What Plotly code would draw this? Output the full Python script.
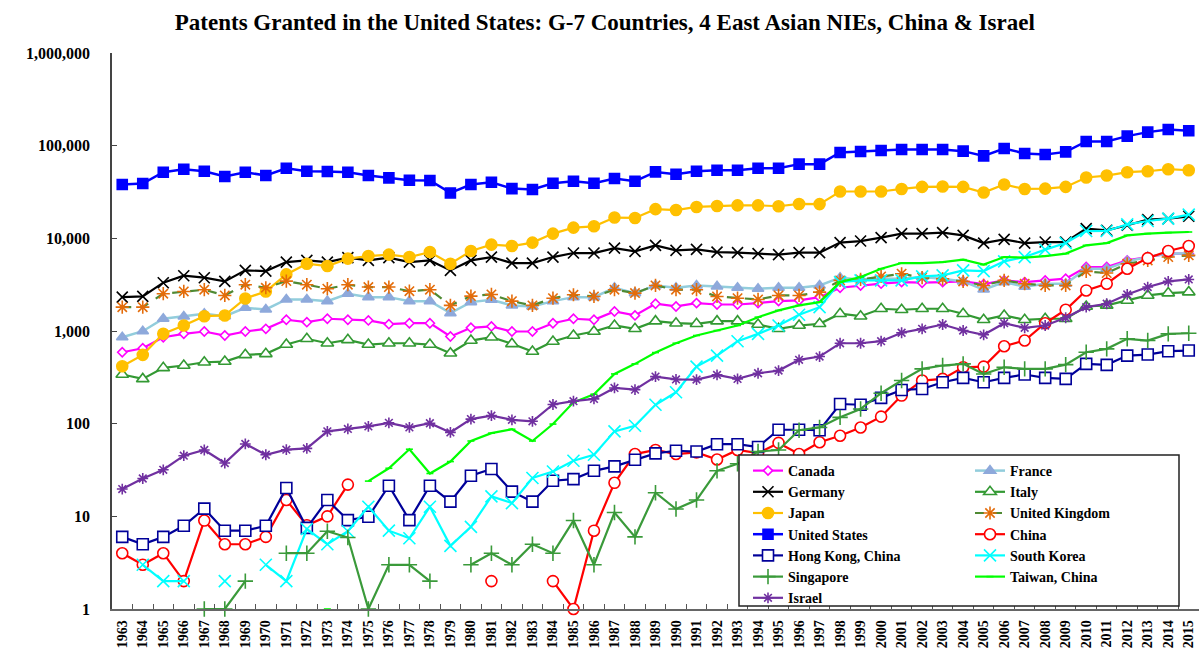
import plotly.graph_objects as go

years = [str(y) for y in range(1963, 2016)]

canada = [590, 652, 857, 933, 988, 894, 988, 1056, 1322, 1245,
          1355, 1322, 1300, 1185, 1214, 1214, 873, 1083, 1120, 988,
          988, 1214, 1355, 1322, 1625, 1472, 1968, 1840, 2000, 1933,
          1933, 2000, 2100, 2137, 2320, 2930, 3100, 3240, 3370, 3320,
          3370, 3430, 3200, 3515, 3370, 3515, 3670, 4900, 4900, 5780,
          6280, 6840, 6840]
france = [857, 995, 1355, 1435, 1535, 1445, 1783, 1708, 2190, 2190,
          2100, 2525, 2320, 2320, 2100, 2100, 1558, 2050, 2175, 1888,
          1840, 2100, 2320, 2320, 2930, 2565, 3100, 2930, 3100, 3030,
          2930, 2860, 2930, 2930, 3100, 3760, 3600, 3670, 3670, 3820,
          3670, 3430, 2800, 3370, 3000, 3240, 3240, 4700, 4700, 5640,
          6280, 6840, 6840]
germany = [2320, 2360, 3320, 3950, 3760, 3430, 4510, 4430, 5540, 5780,
           5540, 6190, 5780, 6190, 5540, 5780, 4510, 5780, 6280, 5410,
           5410, 6280, 6940, 6940, 7850, 7230, 8400, 7420, 7600, 7110,
           7010, 6840, 6670, 7010, 7010, 8990, 9350, 10180, 11250, 11250,
           11530, 10770, 8890, 9750, 8890, 9120, 9120, 12740, 12200, 13830,
           15920, 16340, 17290]
italy = [339, 304, 400, 424, 460, 468, 553, 567, 714, 824,
         738, 803, 714, 738, 738, 714, 576, 789, 857, 727,
         600, 770, 894, 988, 1147, 1056, 1277, 1214, 1196, 1277,
         1277, 1175, 1056, 1147, 1196, 1535, 1445, 1738, 1695, 1738,
         1738, 1535, 1322, 1472, 1322, 1355, 1355, 1840, 1888, 2137,
         2420, 2565, 2630]
japan = [416, 553, 933, 1147, 1445, 1472, 2246, 2673, 4080, 5320,
         5020, 6040, 6440, 6670, 6280, 7110, 5320, 7290, 8550, 8260,
         8990, 11250, 13060, 13480, 16750, 16600, 20650, 20200, 21800, 22300,
         22700, 22700, 22200, 23500, 23400, 32000, 32000, 32000, 34100, 35900,
         36200, 35900, 31200, 38100, 34100, 34400, 35900, 45300, 47600, 51700,
         53000, 55700, 54300]
uk = [1808, 1808, 2525, 2673, 2790, 2420, 3160, 2930, 3455, 3160,
      2860, 3160, 2980, 2980, 2690, 2790, 1888, 2380, 2480, 2100,
      1888, 2260, 2460, 2360, 2790, 2565, 3100, 2790, 2790, 2360,
      2260, 2190, 2420, 2420, 2630, 3515, 3600, 3885, 4150, 3760,
      3650, 3430, 3100, 3515, 3240, 3100, 3100, 4400, 4220, 5320,
      5780, 6280, 6550]
usa = [38100, 39000, 51700, 55700, 53000, 46500, 51700, 47600, 57100, 53000,
       52600, 51700, 47600, 44900, 42400, 42100, 30900, 38100, 40300, 34400,
       33600, 39300, 41300, 39300, 44200, 41300, 52100, 49200, 53000, 54300,
       54300, 57100, 57100, 63200, 63200, 84400, 86500, 88800, 91000, 91000,
       91000, 87300, 77600, 93300, 82400, 80300, 85700, 111000, 111000, 126800,
       140000, 149600, 144600]
china = [4, 3, 4, 2, 9, 5, 5, 6, 15, 8,
         10, 22, None, None, None, None, None, None, 2, None,
         None, 2, 1, 7, 23, 47, 52, 47, 49, 41,
         52, 48, 62, 47, 63, 74, 91, 119, 201, 292,
         304, 406, 413, 685, 789, 1214, 1695, 2740, 3240, 4700,
         6120, 7290, 8260]
hong_kong = [6, 5, 6, 7.9, 12.1, 7, 7, 7.9, 20.2, 7.5,
             15, 9.1, 9.9, 21.4, 9.1, 21.4, 14.4, 27.4, 32.4, 18.5,
             14.4, 24.2, 25.2, 31, 34.6, 40.8, 47.8, 51, 50, 60,
             60, 56, 86, 86, 85, 163, 160, 190, 231, 237,
             280, 312, 280, 312, 339, 312, 304, 442, 431, 543,
             557, 605, 615]
south_korea = [None, 3, 2, 2, None, 2, None, 3, 2, 7.3,
               5, 6.9, 12.7, 7, 5.8, 12.7, 4.8, 7.7, 16.4, 13.9,
               25.9, 30.5, 39.8, 46.2, 82.6, 95, 160, 218, 413, 543,
               776, 931, 1147, 1497, 1808, 3370, 3515, 3515, 3515, 3885,
               3980, 4510, 4430, 5640, 6280, 7550, 8890, 11990, 12000, 14170,
               15390, 16340, 18030]
singapore = [None, None, None, None, 1, 1, 2, None, 4, 4,
             6.9, 5.9, 1, 3, 3, 2, None, 3, 4, 3,
             5, 4, 9, 3, 11, 6, 18, 12, 15, 31,
             37, 50, 52, 85, 91, 117, 144, 213, 292, 390,
             424, 442, 344, 406, 390, 390, 434, 590, 642, 824,
             789, 931, 946]
taiwan = [None, None, None, None, None, None, None, None, None, None,
          1, None, 24, 33, 53, 29, 39, 65, 79, 87,
          65, 99, 170, 208, 344, 442, 585, 738, 894, 1012,
          1147, 1410, 1667, 1888, 2050, 3370, 3820, 4700, 5410, 5410,
          5540, 5890, 5200, 6280, 6190, 6440, 6840, 8400, 8890, 10770,
          11250, 11530, 11700]
israel = [19.7, 25.6, 31.8, 45.1, 52, 37.6, 60.4, 46.2, 52.4, 54.1,
          82.6, 87.7, 93.5, 102, 91.2, 101, 80.5, 112, 122, 110,
          106, 161, 175, 185, 243, 233, 322, 300, 299, 336,
          304, 350, 374, 489, 530, 738, 738, 776, 957, 1056,
          1175, 1012, 910, 1214, 1083, 1147, 1390, 1808, 1968, 2480,
          2980, 3430, 3600]

y_tick_vals = [1, 10, 100, 1000, 10000, 100000, 1000000]
y_tick_text = ["1", "10", "100", "1,000", "10,000", "100,000", "1,000,000"]

title_text = "Patents Granted in the United States: G-7 Countries, 4 East Asian NIEs, China & Israel"

SERIF = "Liberation Serif"

series = [
    # name, data, line color, line dash, width, symbol, marker color, marker line color, size, legend
    ("Canada", canada, "#FF00FF", "solid", 2.2, "diamond", "white", "#FF00FF", 7, "legend"),
    ("France", france, "#92CDDC", "solid", 2.5, "triangle-up", "#8EA9DB", "#8EA9DB", 10, "legend2"),
    ("Germany", germany, "#000000", "solid", 2.2, "x-thin-open", "#000000", "#000000", 11, "legend"),
    ("Italy", italy, "#339933", "solid", 2.2, "triangle-up", "white", "#339933", 11, "legend2"),
    ("Japan", japan, "#FFC000", "solid", 2.2, "circle", "#FFC000", "#FFC000", 11, "legend"),
    ("United Kingdom", uk, "#4F8A33", "dash", 2.2, "asterisk-open", "#E46C0A", "#E46C0A", 11, "legend2"),
    ("United States", usa, "#0000FF", "solid", 2.5, "square", "#0000FF", "#0000FF", 10, "legend"),
    ("China", china, "#FF0000", "solid", 2.2, "circle", "white", "#FF0000", 11, "legend2"),
    ("Hong Kong, China", hong_kong, "#000099", "solid", 2.2, "square", "white", "#000099", 11, "legend"),
    ("South Korea", south_korea, "#00FFFF", "solid", 2.2, "x-thin-open", "#00FFFF", "#00FFFF", 12, "legend2"),
    ("Singapore", singapore, "#3A9A3A", "solid", 2.2, "cross-thin-open", "#3A9A3A", "#3A9A3A", 11, "legend"),
    ("Taiwan, China", taiwan, "#00FF00", "solid", 2.2, "line-ew-open", "#00FF00", "#00FF00", 5, "legend2"),
    ("Israel", israel, "#7030A0", "solid", 2.2, "asterisk-open", "#7030A0", "#7030A0", 9, "legend"),
]

fig = go.Figure()
for name, data, lc, dash, lw, sym, mc, mlc, ms, lg in series:
    fig.add_trace(go.Scatter(
        x=years, y=data, name=name, mode="lines+markers",
        line=dict(color=lc, width=lw, dash=dash),
        marker=dict(symbol=sym, color=mc, size=ms,
                    line=dict(color=mlc, width=1.6)),
        connectgaps=False, cliponaxis=False, legend=lg,
    ))

W, H = 1200, 652
ML, MR, MT, MB = 112, 1, 53, 43
PW, PH = W - ML - MR, H - MT - MB


def px_x(p):
    return (p - ML) / PW


def px_y(p):
    return (H - MB - p) / PH


box_top, box_bot = 455, 606
legend_font = dict(family=SERIF, size=14, color="black", weight="bold")

fig.update_layout(
    width=W, height=H,
    margin=dict(l=ML, r=MR, t=MT, b=MB),
    paper_bgcolor="white", plot_bgcolor="white",
    title=dict(text=title_text, x=0.504, xref="container", xanchor="center",
               y=1 - 22 / H, yref="container", yanchor="middle",
               font=dict(family=SERIF, size=23, color="black", weight="bold")),
    xaxis=dict(type="category", tickmode="array", tickvals=years, ticktext=years,
               tickangle=-90, tickson="boundaries", ticks="inside", ticklen=5,
               tickcolor="#555555", showgrid=False, zeroline=False,
               showline=True, linecolor="#666666", linewidth=1.5,
               tickfont=dict(family=SERIF, size=14, color="black", weight="bold"),
               ticklabelstandoff=4, range=[-0.5, len(years) - 0.5]),
    yaxis=dict(type="log", range=[0, 6], tickmode="array", tickvals=y_tick_vals,
               ticktext=y_tick_text, ticks="inside", ticklen=5, tickcolor="#444444",
               showgrid=False, zeroline=False, showline=True, linecolor="#444444",
               linewidth=1.5, ticklabelstandoff=17,
               tickfont=dict(family=SERIF, size=16, color="black", weight="bold")),
    legend=dict(x=px_x(748), y=px_y(box_top), xanchor="left", yanchor="top",
                bgcolor="rgba(0,0,0,0)", borderwidth=0, font=legend_font,
                tracegroupgap=0),
    legend2=dict(x=px_x(970), y=px_y(box_top), xanchor="left", yanchor="top",
                 bgcolor="rgba(0,0,0,0)", borderwidth=0, font=legend_font,
                 tracegroupgap=0),
    shapes=[dict(type="rect", xref="paper", yref="paper",
                 x0=px_x(739), x1=px_x(1179), y0=px_y(box_bot), y1=px_y(box_top),
                 fillcolor="white", line=dict(color="#222222", width=1.5),
                 layer="above")],
)

fig.write_html("out.html", config={"displayModeBar": False},
               post_script="document.body.style.margin='0';")
